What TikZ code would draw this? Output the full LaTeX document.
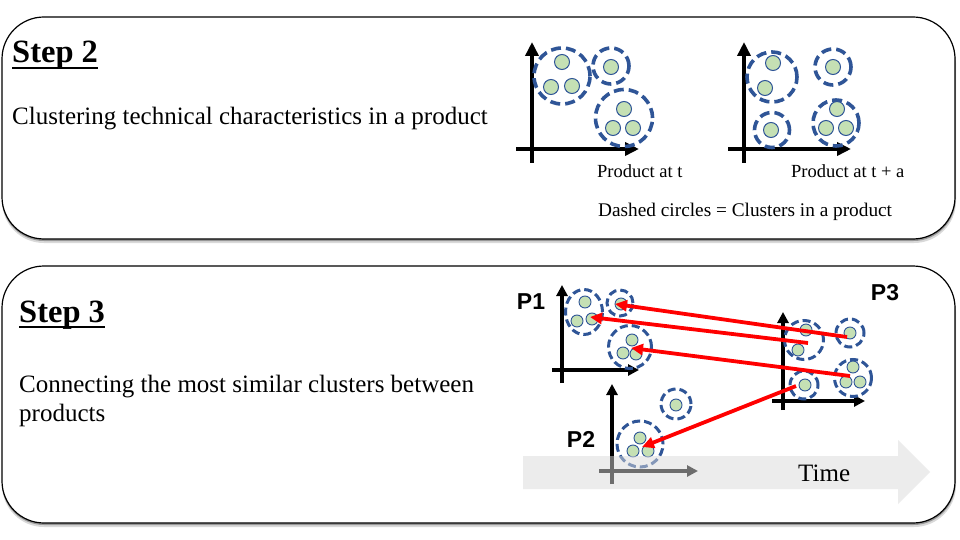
\documentclass[tikz,border=0pt]{standalone}
\usepackage{fontspec}
\setmainfont{Liberation Serif}
\setsansfont{Liberation Sans}
\usetikzlibrary{arrows.meta,shapes.geometric}
\definecolor{cblue}{RGB}{47,85,151}
\definecolor{cgreen}{RGB}{197,224,180}
\definecolor{cred}{RGB}{255,0,0}
\definecolor{tgray}{RGB}{218,218,218}
\begin{document}
\begin{tikzpicture}[x=1pt,y=-1pt,
  panel/.style={draw=black, line width=1.2pt, fill=white, rounded corners=42pt},
  pshadow/.style={fill=black, rounded corners=42pt},
  bigclu/.style={circle, draw=cblue, line width=3.6pt, dash pattern=on 10pt off 5pt, inner sep=0pt},
  smallclu/.style={circle, draw=cblue, line width=3pt, dash pattern=on 8pt off 4pt, inner sep=0pt},
  bigdot/.style={circle, draw=cblue, fill=cgreen, line width=1pt, minimum size=15pt, inner sep=0pt},
  smalldot/.style={circle, draw=cblue, fill=cgreen, line width=0.9pt, minimum size=12pt, inner sep=0pt},
  bigaxis/.style={line width=4.5pt, -{Triangle[length=14pt,width=13pt]}},
  smallaxis/.style={line width=3.4pt, -{Triangle[length=11pt,width=11pt]}},
  redarr/.style={draw=cred, line width=3.8pt, -{Triangle[length=12pt,width=11pt]}},
  title/.style={anchor=base west, inner sep=0pt, font=\fontsize{32.5}{36}\selectfont\bfseries},
  body/.style={anchor=base west, inner sep=0pt, font=\fontsize{25}{30}\selectfont},
  small/.style={anchor=base west, inner sep=0pt, font=\fontsize{18.5}{22}\selectfont},
  plabel/.style={inner sep=0pt, font=\fontsize{23}{26}\selectfont\sffamily\bfseries}
]
\useasboundingbox (0,0) rectangle (960,540);

% ---------- panels ----------
\fill[pshadow, opacity=0.15] (2,21) rectangle (956,243);
\fill[pshadow, opacity=0.3] (2,19) rectangle (955.5,241);
\draw[panel] (2,17) rectangle (955,239);
\fill[pshadow, opacity=0.15] (2,270) rectangle (956,527);
\fill[pshadow, opacity=0.3] (2,268) rectangle (955.5,525);
\draw[panel] (2,266) rectangle (955,523);

% ---------- Step 2 texts ----------
\node[title] (s2) at (12,63) {Step 2};
\draw[line width=2pt] (s2.base west) ++(0,5) -- ([yshift=-5pt]s2.base east);
\node[body] (s2t) at (12,125) {Clustering technical characteristics in a product};
\node[small] (pt) at (597,178) {Product at t};
\node[small] (pta) at (791,178) {Product at t + a};
\node[small, font=\fontsize{19.3}{22}\selectfont] (dc) at (598,216) {Dashed circles = Clusters in a product};

% ---------- plot: product at t ----------
\coordinate (ay1b) at (532,163); \coordinate (ay1t) at (532,42);
\coordinate (ax1l) at (516,149); \coordinate (ax1r) at (639,149);
\draw[bigaxis] (ay1b) -- (ay1t);
\draw[bigaxis] (ax1l) -- (ax1r);
\node[bigclu, minimum size=56pt] (cA) at (562,76) {};
\node[bigdot] (a1) at (562,62) {};
\node[bigdot] (a2) at (551,87) {};
\node[bigdot] (a3) at (572,86) {};
\node[bigclu, minimum size=36pt] (cB) at (611,66) {};
\node[bigdot] (b1) at (611,67) {};
\node[bigclu, minimum size=57pt] (cC) at (624,118) {};
\node[bigdot] (c1) at (624,109) {};
\node[bigdot] (c2) at (613,128) {};
\node[bigdot] (c3) at (633,128) {};

% ---------- plot: product at t + a ----------
\coordinate (ay2b) at (744,163); \coordinate (ay2t) at (744,42);
\coordinate (ax2l) at (728,149); \coordinate (ax2r) at (851,149);
\draw[bigaxis] (ay2b) -- (ay2t);
\draw[bigaxis] (ax2l) -- (ax2r);
\node[bigclu, minimum size=50pt] (cD) at (772,77) {};
\node[bigdot] (d1) at (773,63) {};
\node[bigdot] (d2) at (765,88) {};
\node[bigclu, minimum size=36pt] (cE) at (833,67) {};
\node[bigdot] (e1) at (833,67) {};
\node[bigclu, minimum size=35pt] (cF) at (772,130) {};
\node[bigdot] (f1) at (771,130) {};
\node[bigclu, minimum size=46pt] (cG) at (836,123) {};
\node[bigdot] (g1) at (837,109) {};
\node[bigdot] (g2) at (826,128) {};
\node[bigdot] (g3) at (846,128) {};

% ---------- Step 3 texts ----------
\node[title] (s3) at (19,322) {Step 3};
\draw[line width=2pt] (s3.base west) ++(0,5) -- ([yshift=-5pt]s3.base east);
\node[body] (s3t) at (19,392) {Connecting the most similar clusters between};
\node[body] (s3u) at (19,421) {products};
\node[plabel] (P1) at (531,302) {P1};
\node[plabel] (P2) at (581,439) {P2};
\node[plabel] (P3) at (885,293) {P3};

% ---------- P1 ----------
\coordinate (py1b) at (562,383); \coordinate (py1t) at (562,285);
\coordinate (px1l) at (552,370); \coordinate (px1r) at (639,370);
\draw[smallaxis] (py1b) -- (py1t);
\draw[smallaxis] (px1l) -- (px1r);
\node[ellipse, draw=cblue, line width=3pt, dash pattern=on 8pt off 4pt, inner sep=0pt, minimum width=37pt, minimum height=45pt] (cH) at (584,312) {};
\node[smalldot] (h1) at (585,302) {};
\node[smalldot] (h2) at (577,321) {};
\node[smalldot] (h3) at (592,319) {};
\node[smallclu, minimum size=26pt] (cBp) at (620,303) {};
\node[smalldot] (bp1) at (621,304) {};
\node[smallclu, minimum size=43pt] (cCp) at (630,347) {};
\node[smalldot] (cp1) at (632,340) {};
\node[smalldot] (cp2) at (623,353) {};
\node[smalldot] (cp3) at (636,354) {};

% ---------- P3 ----------
\coordinate (py3b) at (783,410); \coordinate (py3t) at (783,312);
\coordinate (px3l) at (772,401); \coordinate (px3r) at (865,401);
\draw[smallaxis] (py3b) -- (py3t);
\draw[smallaxis] (px3l) -- (px3r);
\node[smallclu, minimum size=39pt] (cI) at (804,340) {};
\node[smalldot] (i1) at (806,330) {};
\node[smalldot] (i2) at (798,350) {};
\node[smallclu, minimum size=28pt] (cJ) at (850,333) {};
\node[smalldot] (j1) at (850,333) {};
\node[smallclu, minimum size=28pt] (cK) at (804,385) {};
\node[smalldot] (k1) at (805,385) {};
\node[smallclu, minimum size=37pt] (cL) at (853,378) {};
\node[smalldot] (l1) at (853,367) {};
\node[smalldot] (l2) at (846,382) {};
\node[smalldot] (l3) at (860,382) {};

% ---------- P2 ----------
\coordinate (py2b) at (612,484); \coordinate (py2t) at (612,384);
\coordinate (px2l) at (599,471); \coordinate (px2r) at (698,471);
\draw[smallaxis] (py2b) -- (py2t);
\draw[smallaxis] (px2l) -- (px2r);
\node[smallclu, minimum size=46pt] (cM) at (640,444) {};
\node[smalldot] (m1) at (640,438) {};
\node[smalldot] (m2) at (633,451) {};
\node[smalldot] (m3) at (648,451) {};
\node[smallclu, minimum size=30pt] (cN) at (676,404) {};
\node[smalldot] (n1) at (676,405) {};

% ---------- red connectors ----------
\coordinate (sa) at (847,337); \coordinate (ea) at (615,304);
\coordinate (sb) at (808,343); \coordinate (eb) at (590,317);
\coordinate (sc) at (850,376); \coordinate (ec) at (631,348);
\coordinate (sd) at (796,386); \coordinate (ed) at (642,447);
\draw[redarr] (sa) -- (ea);
\draw[redarr] (sb) -- (eb);
\draw[redarr] (sc) -- (ec);
\draw[redarr] (sd) -- (ed);

% ---------- time arrow ----------
\fill[tgray, opacity=0.5] (523,456) -- (898,456) -- (898,440) -- (930,472) -- (898,504) -- (898,489) -- (523,489) -- cycle;
\node[body] (time) at (798,481) {Time};
\end{tikzpicture}
\end{document}
